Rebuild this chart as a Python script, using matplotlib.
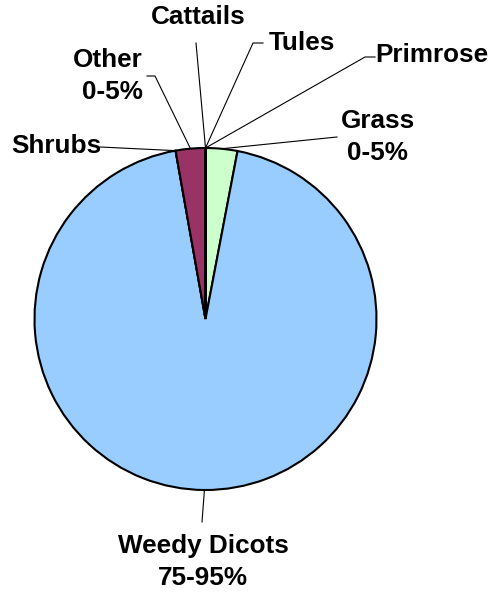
import numpy as np
import matplotlib
matplotlib.use("Agg")
import matplotlib.pyplot as plt

plt.rcParams['font.family'] = ['Liberation Sans', 'DejaVu Sans']

# slices clockwise from 12 o'clock (values in %)
labels = ['Grass\n0-5%', 'Weedy Dicots\n75-95%', 'Shrubs', 'Other\n0-5%',
          'Cattails', 'Tules', 'Primrose']
values = [3.0, 94.2, 0.0, 2.8, 0.0, 0.0, 0.0]
colors = ['#CCFFCC', '#99CCFF', '#99CCFF', '#993366', '#993366', '#993366', '#993366']

# label placement in pixels (x, y from top), alignment, leader elbow points
label_pos = [(378, 137), (203, 562), (56, 146), (143, 76), (198, 17), (302, 43), (432, 55)]
label_ha = ['center', 'center', 'center', 'right', 'center', 'center', 'center']
leader_pts = [[(337, 137)], [(202, 522)], [(100, 147)], [(147, 76), (155, 76)],
              [(196, 43)], [(263, 43), (253, 43)], [(375, 57), (365, 57)]]

W, H = 495, 592
fig = plt.figure(figsize=(W / 100, H / 100), dpi=100)
ax = fig.add_axes([0, 0, 1, 1])

cx, cy, r = 205.5, H - 319, 171
wedges, _ = ax.pie(values, center=(cx, cy), radius=r, startangle=90, counterclock=False,
                   colors=colors, wedgeprops=dict(edgecolor='black', linewidth=1.5))

for w, lab, (lx, ly), ha, pts in zip(wedges, labels, label_pos, label_ha, leader_pts):
    mid = np.deg2rad((w.theta1 + w.theta2) / 2)
    ax_x = cx + r * np.cos(mid)
    ax_y = cy + r * np.sin(mid)
    xs = [p[0] for p in pts] + [ax_x]
    ys = [H - p[1] for p in pts] + [ax_y]
    ax.plot(xs, ys, color='black', lw=0.8, zorder=0.5)
    ax.text(lx, H - ly, lab, ha=ha, va='center', multialignment=ha,
            fontsize=18.8, fontweight='bold', linespacing=1.4)

ax.set_xlim(0, W)
ax.set_ylim(0, H)
ax.set_aspect('equal')
ax.axis('off')

fig.savefig('out.png', dpi=100)
